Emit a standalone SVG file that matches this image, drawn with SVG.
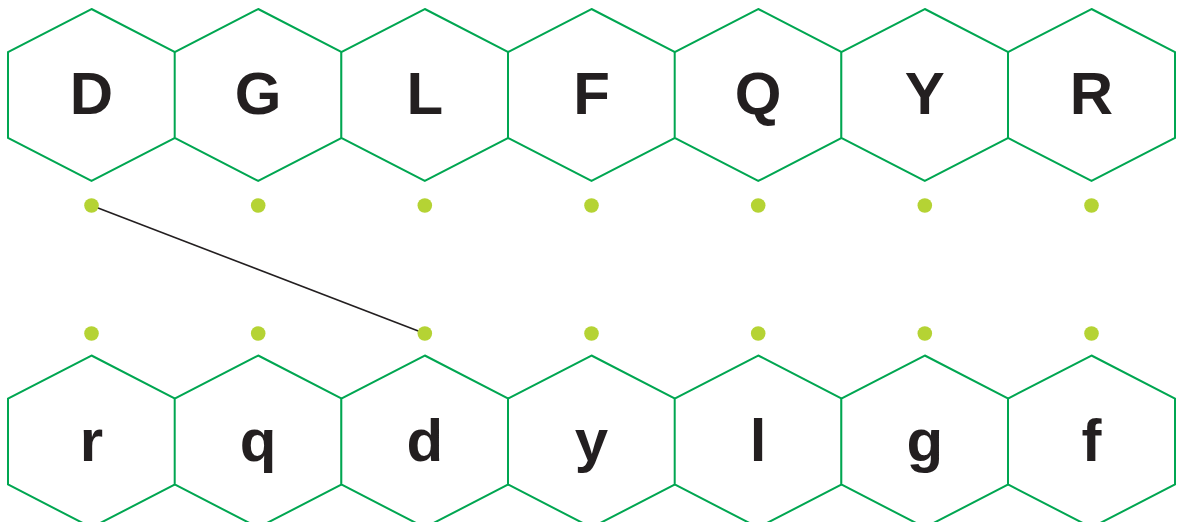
<svg xmlns="http://www.w3.org/2000/svg" width="1180" height="522" viewBox="0 0 1180 522">
<defs>
<style>
.hex{fill:#fff;stroke:#00a651;stroke-width:2;stroke-linejoin:miter}
.lbl{font-family:"Liberation Sans",Arial,sans-serif;font-weight:bold;font-size:60px;fill:#231f20;text-anchor:middle}
.dot{fill:#b5d334}
.edge{stroke:#231f20;stroke-width:1.6;fill:none}
</style>
<polygon id="hx" points="0,-86 83.5,-43 83.5,43 0,86 -83.5,43 -83.5,-43"/>
</defs>
<g id="top-row">
<g id="n-D" transform="translate(91.5,95)"><use href="#hx" class="hex"/><text class="lbl" y="19">D</text></g>
<g id="n-G" transform="translate(258.2,95)"><use href="#hx" class="hex"/><text class="lbl" y="19">G</text></g>
<g id="n-L" transform="translate(424.8,95)"><use href="#hx" class="hex"/><text class="lbl" y="19">L</text></g>
<g id="n-F" transform="translate(591.5,95)"><use href="#hx" class="hex"/><text class="lbl" y="19">F</text></g>
<g id="n-Q" transform="translate(758.2,95)"><use href="#hx" class="hex"/><text class="lbl" y="19">Q</text></g>
<g id="n-Y" transform="translate(924.8,95)"><use href="#hx" class="hex"/><text class="lbl" y="19">Y</text></g>
<g id="n-R" transform="translate(1091.5,95)"><use href="#hx" class="hex"/><text class="lbl" y="19">R</text></g>
</g>
<g id="bottom-row">
<g id="n-r" transform="translate(91.5,441.5)"><use href="#hx" class="hex"/><text class="lbl" y="19.5">r</text></g>
<g id="n-q" transform="translate(258.2,441.5)"><use href="#hx" class="hex"/><text class="lbl" y="19.5">q</text></g>
<g id="n-d" transform="translate(424.8,441.5)"><use href="#hx" class="hex"/><text class="lbl" y="19.5">d</text></g>
<g id="n-y" transform="translate(591.5,441.5)"><use href="#hx" class="hex"/><text class="lbl" y="19.5">y</text></g>
<g id="n-l" transform="translate(758.2,441.5)"><use href="#hx" class="hex"/><text class="lbl" y="19.5">l</text></g>
<g id="n-g" transform="translate(924.8,441.5)"><use href="#hx" class="hex"/><text class="lbl" y="19.5">g</text></g>
<g id="n-f" transform="translate(1091.5,441.5)"><use href="#hx" class="hex"/><text class="lbl" y="19.5">f</text></g>
</g>
<g id="connectors">
<line class="edge" x1="91.5" y1="205.5" x2="424.8" y2="333.5"/>
</g>
<g id="ports">
<circle class="dot" cx="91.5" cy="205.5" r="7.3"/>
<circle class="dot" cx="258.2" cy="205.5" r="7.3"/>
<circle class="dot" cx="424.8" cy="205.5" r="7.3"/>
<circle class="dot" cx="591.5" cy="205.5" r="7.3"/>
<circle class="dot" cx="758.2" cy="205.5" r="7.3"/>
<circle class="dot" cx="924.8" cy="205.5" r="7.3"/>
<circle class="dot" cx="1091.5" cy="205.5" r="7.3"/>
<circle class="dot" cx="91.5" cy="333.5" r="7.3"/>
<circle class="dot" cx="258.2" cy="333.5" r="7.3"/>
<circle class="dot" cx="424.8" cy="333.5" r="7.3"/>
<circle class="dot" cx="591.5" cy="333.5" r="7.3"/>
<circle class="dot" cx="758.2" cy="333.5" r="7.3"/>
<circle class="dot" cx="924.8" cy="333.5" r="7.3"/>
<circle class="dot" cx="1091.5" cy="333.5" r="7.3"/>
</g>
</svg>
